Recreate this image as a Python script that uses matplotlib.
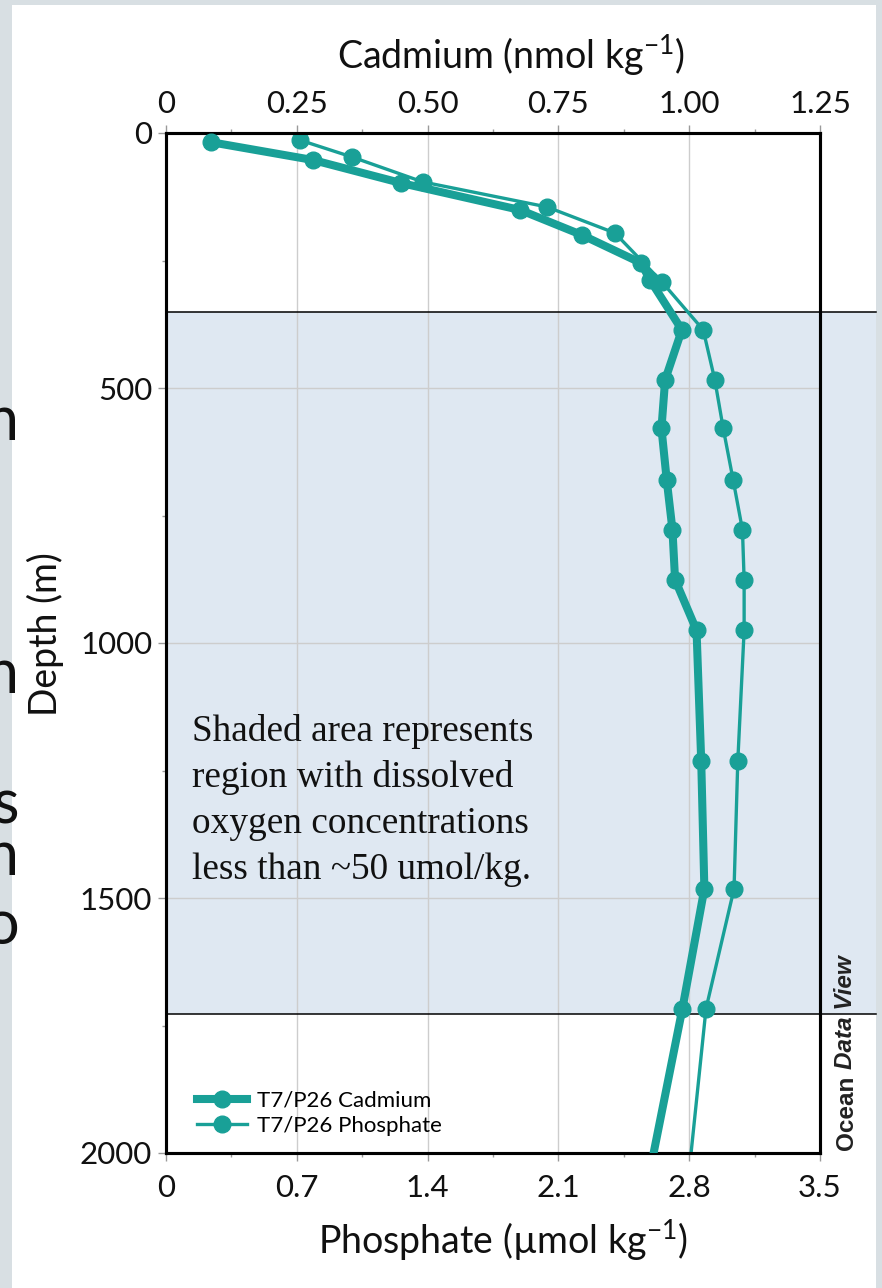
import matplotlib

matplotlib.use("Agg")
import matplotlib.pyplot as plt
from matplotlib.lines import Line2D
from matplotlib.patches import Rectangle
from matplotlib.ticker import AutoMinorLocator
from matplotlib.transforms import blended_transform_factory

W, H = 882, 1288

# T7/P26 profiles (depth in m)
cd_depth = [18, 53, 98, 151, 200, 255, 288, 386, 484, 579, 680, 778, 876, 975, 1232, 1482, 1717, 2000]
cd_value = [0.086, 0.281, 0.449, 0.677, 0.795, 0.908, 0.925, 0.986, 0.954, 0.947, 0.957, 0.968,
            0.973, 1.014, 1.023, 1.029, 0.987, 0.932]
po4_depth = [14, 47, 96, 145, 196, 292, 386, 484, 579, 680, 778, 876, 975, 1232, 1482, 1717, 2000]
po4_value = [0.717, 0.995, 1.375, 2.039, 2.402, 2.654, 2.875, 2.937, 2.982, 3.035, 3.085, 3.094,
             3.094, 3.06, 3.04, 2.89, 2.81]

cd_ticks = [0, 0.25, 0.5, 0.75, 1.0, 1.25]
cd_ticklabels = ["0", "0.25", "0.50", "0.75", "1.00", "1.25"]
po4_ticks = [0, 0.7, 1.4, 2.1, 2.8, 3.5]
po4_ticklabels = ["0", "0.7", "1.4", "2.1", "2.8", "3.5"]
depth_ticks = [0, 500, 1000, 1500, 2000]

# low-oxygen band (m)
o2_top, o2_bottom = 351, 1728

TEAL = "#19a097"
NOTE = "Shaded area represents\nregion with dissolved\noxygen concentrations\nless than ~50 umol/kg."


def px(x, y):
    return x / W, 1 - y / H


plt.rcParams["font.family"] = ["Lato", "DejaVu Sans"]
plt.rcParams["mathtext.fontset"] = "custom"
plt.rcParams["mathtext.rm"] = "Lato"
plt.rcParams["mathtext.default"] = "regular"

fig = plt.figure(figsize=(W / 100, H / 100), dpi=100)
fig.patch.set_facecolor("#d8dfe3")
fig.add_artist(Rectangle(px(12, H), (876 - 12) / W, (H - 5) / H, transform=fig.transFigure,
                         facecolor="white", edgecolor="none", zorder=-5))

ax = fig.add_axes([166 / W, 1 - 1153 / H, 654 / W, 1020 / H])
ax.set_xlim(0, 3.5)
ax.set_ylim(2000, 0)
cd_ax = ax.twiny()
cd_ax.set_xlim(0, 1.25)

# shaded low-O2 band, runs past the right spine
trans = blended_transform_factory(ax.transAxes, ax.transData)
ax.add_patch(Rectangle((0, o2_top), 1.0856, o2_bottom - o2_top, transform=trans,
                       facecolor="#dfe8f2", edgecolor="none", clip_on=False, zorder=0.2))
for d in (o2_top, o2_bottom):
    ax.plot([0, 1.0856], [d, d], transform=trans, color="black", lw=1.1, clip_on=False, zorder=2)

ax.set_axisbelow(True)
ax.grid(True, color="#cdcdcd", lw=1.0)

ax.plot(po4_value, po4_depth, color=TEAL, lw=2.4, zorder=3)
ax.plot(po4_value[:-1], po4_depth[:-1], "o", color=TEAL, ms=12, zorder=3)
cd_ax.plot(cd_value, cd_depth, color=TEAL, lw=5.8, zorder=3)
cd_ax.plot(cd_value[:-1], cd_depth[:-1], "o", color=TEAL, ms=12, zorder=3)

ax.set_xticks(po4_ticks, po4_ticklabels)
ax.set_yticks(depth_ticks)
cd_ax.set_xticks(cd_ticks, cd_ticklabels)
for a in (ax, cd_ax):
    a.xaxis.set_minor_locator(AutoMinorLocator(2))
    for s in a.spines.values():
        s.set_color("black")
        s.set_linewidth(2.2)
ax.yaxis.set_minor_locator(AutoMinorLocator(2))
tick_kw = dict(direction="out", color="#9a9a9a", labelsize=22.5, labelcolor="#111111")
ax.tick_params(axis="x", which="major", length=6, width=1, pad=9, **tick_kw)
ax.tick_params(axis="y", which="major", length=6, width=1, pad=4, **tick_kw)
cd_ax.tick_params(axis="x", which="major", length=6, width=1, pad=5, **tick_kw)
for a in (ax, cd_ax):
    a.tick_params(which="minor", length=3, width=1, color="#9a9a9a", direction="out")

fig.text(*px(511, 55), "Cadmium (nmol kg$^{-1}$)", ha="center", va="center", fontsize=27, color="#111111")
fig.text(*px(503, 1240), "Phosphate (µmol kg$^{-1}$)", ha="center", va="center", fontsize=27, color="#111111")
fig.text(*px(45, 634), "Depth (m)", ha="center", va="center", rotation=90, fontsize=27, color="#111111")

handles = [Line2D([], [], color=TEAL, lw=5.8, marker="o", ms=12),
           Line2D([], [], color=TEAL, lw=2.4, marker="o", ms=12)]
cd_ax.legend(handles, ["T7/P26 Cadmium", "T7/P26 Phosphate"], loc="lower left",
             bbox_to_anchor=(0.0474, 0.0167), frameon=False, fontsize=16, handlelength=2.25,
             handletextpad=0.45, labelspacing=0.25, borderpad=0, borderaxespad=0)

fig.text(*px(192, 714), NOTE, family="Liberation Serif", fontsize=26.8, va="top", ha="left",
         linespacing=1.42, color="#111111")

fig.text(*px(846, 1150), "Ocean", rotation=90, ha="center", va="bottom", fontsize=17.5,
         fontweight="bold", family="Liberation Sans", color="#222222")
fig.text(*px(846, 1069), "Data View", rotation=90, ha="center", va="bottom", fontsize=17.5,
         fontweight="bold", fontstyle="italic", family="Liberation Sans", color="#222222")

# slide text peeking out at the left edge
for y, ch in [(440, "n"), (693, "n"), (823, "s"), (875, "n"), (944, "o")]:
    fig.text(19 / W, 1 - y / H, ch, ha="right", va="baseline", fontsize=44, color="#111111")

fig.savefig("out.png", dpi=100)
plt.close(fig)
